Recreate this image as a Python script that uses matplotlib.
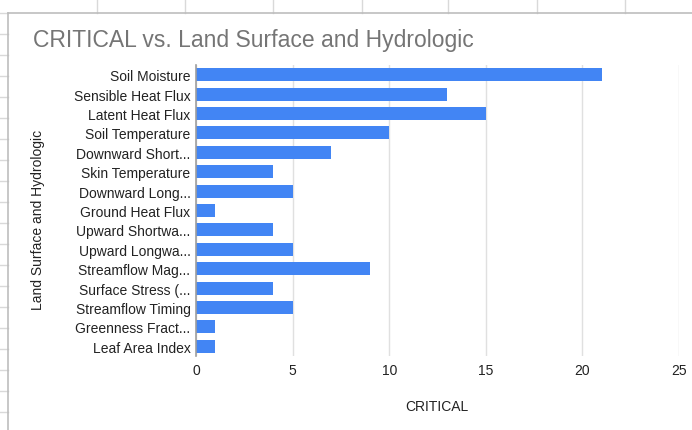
import matplotlib
matplotlib.use("Agg")
import matplotlib.pyplot as plt
from matplotlib.lines import Line2D

categories = ["Soil Moisture", "Sensible Heat Flux", "Latent Heat Flux", "Soil Temperature",
              "Downward Short...", "Skin Temperature", "Downward Long...", "Ground Heat Flux",
              "Upward Shortwa...", "Upward Longwa...", "Streamflow Mag...", "Surface Stress (...",
              "Streamflow Timing", "Greenness Fract...", "Leaf Area Index"]
values = [21, 13, 15, 10, 7, 4, 5, 1, 4, 5, 9, 4, 5, 1, 1]
xticks = [0, 5, 10, 15, 20, 25]

plt.rcParams['font.family'] = ['Liberation Sans', 'DejaVu Sans']

W, H = 692, 431
fig = plt.figure(figsize=(W / 100, H / 100), dpi=100)
fig.patch.set_facecolor("white")

# spreadsheet background decoration
for x in [97, 185, 273, 362, 448, 537, 625]:
    fig.add_artist(Line2D([x / W, x / W], [1, 1 - 14 / H], color="#d9d9d9", lw=1))
for y in range(14, H, 21):
    fig.add_artist(Line2D([0, 8 / W], [1 - y / H, 1 - y / H], color="#d9d9d9", lw=1))
fig.add_artist(Line2D([8 / W, 8 / W], [0, 1 - 14 / H], color="#bdbdbd", lw=1.2))
fig.add_artist(Line2D([8 / W, 1], [1 - 14 / H, 1 - 14 / H], color="#bdbdbd", lw=1.2))

ax = fig.add_axes([196 / W, 1 - 357 / H, (679 - 196) / W, (357 - 66) / H])
ypos = list(range(len(categories)))
ax.barh(ypos, values, height=0.68, color="#4285F4", zorder=3)
ax.set_ylim(len(categories) - 0.5, -0.5)
ax.set_xlim(0, 25)
ax.set_xticks(xticks)
ax.set_xticklabels([str(t) for t in xticks])
ax.set_yticks(ypos)
ax.set_yticklabels(categories)
ax.tick_params(axis="both", length=0, labelsize=10, colors="#222222", pad=4)
ax.tick_params(axis="x", pad=5)
ax.grid(axis="x", color="#e0e0e0", lw=1, zorder=0)
for s in ["top", "right", "bottom"]:
    ax.spines[s].set_visible(False)
ax.spines["left"].set_color("#9e9e9e")
ax.spines["left"].set_linewidth(1.2)
ax.spines["left"].set_zorder(4)

ax.set_xlabel("CRITICAL", fontsize=10, color="#222222")
ax.set_ylabel("Land Surface and Hydrologic", fontsize=10, color="#222222")
ax.xaxis.set_label_coords((437 - 196) / 483, (357 - 407) / 291)
ax.yaxis.set_label_coords((38 - 196) / 483, (357 - 220) / 291)
ax.xaxis.label.set_va("center")
ax.yaxis.label.set_va("center")

fig.text(33 / W, 1 - 40 / H, "CRITICAL vs. Land Surface and Hydrologic", fontsize=16.5,
         color="#757575", va="center", ha="left")

fig.savefig("out.png", dpi=100)
